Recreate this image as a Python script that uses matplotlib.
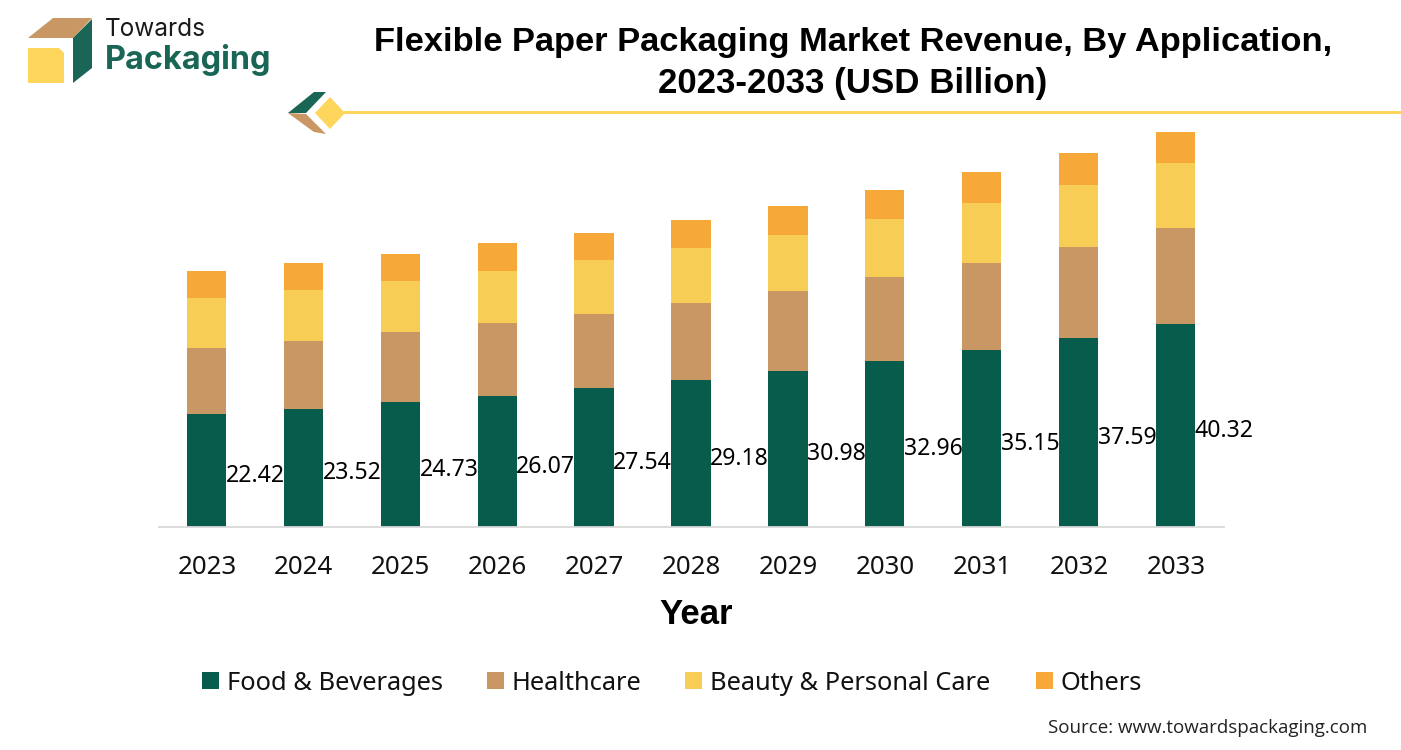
import matplotlib
matplotlib.use("Agg")
import matplotlib.pyplot as plt
from matplotlib.patches import Polygon, Rectangle
import numpy as np

years = [2023, 2024, 2025, 2026, 2027, 2028, 2029, 2030, 2031, 2032, 2033]
food = [22.42, 23.52, 24.73, 26.07, 27.54, 29.18, 30.98, 32.96, 35.15, 37.59, 40.32]
health = [13.11, 13.41, 13.90, 14.50, 14.70, 15.29, 15.89, 16.68, 17.28, 18.07, 19.07]
beauty = [9.93, 10.13, 10.13, 10.33, 10.72, 10.92, 11.12, 11.52, 11.92, 12.31, 12.91]
others = [5.36, 5.36, 5.46, 5.46, 5.46, 5.56, 5.76, 5.76, 6.16, 6.26, 6.16]
series_names = ["Food & Beverages", "Healthcare", "Beauty & Personal Care", "Others"]
series_colors = ["#085C4C", "#C99763", "#F8CD55", "#F6A938"]

W, H = 1401, 750
fig = plt.figure(figsize=(W / 100, H / 100), dpi=100, facecolor="white")

def fx(x):
    return x / W
def fy(y):
    return 1 - y / H

top_px = 120
ax = fig.add_axes([fx(159), fy(527), (1224 - 159) / W, (527 - top_px) / H])
ax.set_xlim(-0.495, 10.495)
ax.set_ylim(0, (527 - top_px) / 5.035)

x = np.arange(len(years))
bottom = np.zeros(len(years))
for vals, name, col in zip([food, health, beauty, others], series_names, series_colors):
    ax.bar(x - 0.005, vals, width=0.405, bottom=bottom, color=col, label=name, linewidth=0)
    bottom = bottom + np.array(vals)

for xi, v in zip(x, food):
    ax.text(xi + 0.497, v / 2 - 1.05, f"{v:.2f}", ha="center", va="center",
            fontsize=16.6, color="black", family="Noto Sans")

for s in ["top", "right", "left"]:
    ax.spines[s].set_visible(False)
ax.spines["bottom"].set_color("#D9D9D9")
ax.spines["bottom"].set_linewidth(1.3)
ax.set_yticks([])
ax.set_xticks(x)
ax.set_xticklabels([str(y) for y in years], fontsize=18.6, family="Noto Sans", color="#111111")
ax.tick_params(axis="x", length=0, pad=20)

fig.text(fx(696), fy(615), "Year", ha="center", va="center", fontsize=25, fontweight="bold",
         family="Liberation Sans", color="black")

fig.text(fx(853), fy(42), "Flexible Paper Packaging Market Revenue, By Application,", ha="center", va="center",
         fontsize=24.8, fontweight="bold", family="Liberation Sans", color="black")
fig.text(fx(853), fy(84), "2023-2033 (USD Billion)", ha="center", va="center",
         fontsize=25.1, fontweight="bold", family="Liberation Sans", color="black")

leg_sq = [202, 487, 685, 1036]
leg_tx = [227, 512, 710, 1061]
for sq, tx, name, col in zip(leg_sq, leg_tx, series_names, series_colors):
    fig.add_artist(Rectangle((fx(sq), fy(689)), 17 / W, 17 / H, transform=fig.transFigure, color=col, lw=0))
    fig.text(fx(tx), fy(683), name, ha="left", va="center", fontsize=18.3, family="Noto Sans", color="#111111")

fig.text(fx(1367), fy(728), "Source: www.towardspackaging.com", ha="right", va="center",
         fontsize=13.5, family="Open Sans", color="#222222")

def poly(pts, col):
    fig.add_artist(Polygon([(fx(a), fy(b)) for a, b in pts], closed=True, transform=fig.transFigure,
                           facecolor=col, edgecolor="none"))

poly([(28, 38), (53, 18), (92, 18), (73, 38)], "#C99763")
poly([(73, 38), (92, 19), (92, 68), (73, 83)], "#1A6656")
poly([(28, 48), (59, 48), (64, 53), (64, 83), (28, 83)], "#FFD65C")
fig.text(fx(105), fy(30), "Towards", ha="left", va="center", fontsize=17.6, family="Inter", color="#1A1A1A")
fig.text(fx(105), fy(60), "Packaging", ha="left", va="center", fontsize=23.4, fontweight="bold",
         family="Inter", color="#1A6656")

poly([(288, 113), (314, 92), (326, 92), (306, 113)], "#1A6656")
poly([(288, 113), (306, 114), (326, 134), (314, 132)], "#C99763")
poly([(315, 113), (330, 97), (345, 113), (330, 129)], "#FFD65C")
fig.add_artist(Rectangle((fx(344), fy(114)), (W - 344) / W, 3 / H, transform=fig.transFigure,
                         color="#FFD65C", lw=0))

fig.savefig("out.png", dpi=100, facecolor="white")
